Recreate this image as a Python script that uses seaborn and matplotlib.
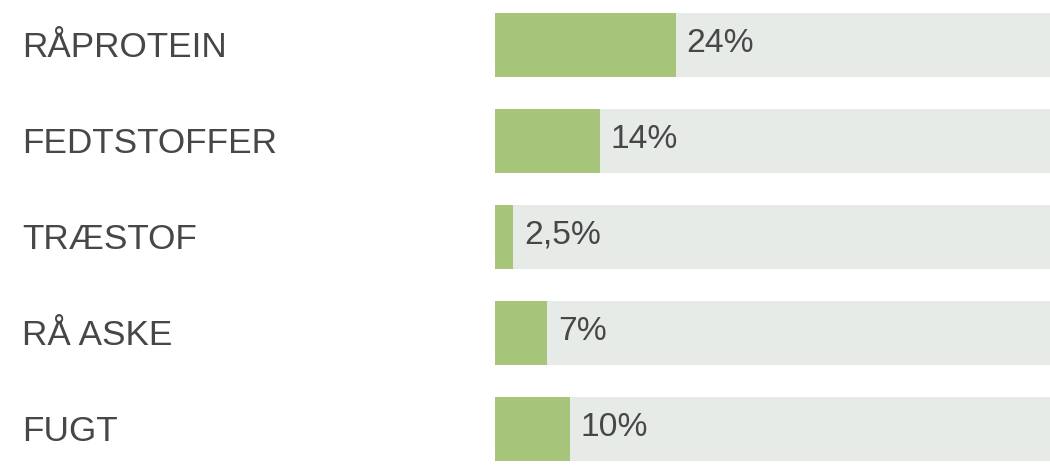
import matplotlib
matplotlib.use("Agg")
import matplotlib.pyplot as plt
import matplotlib.transforms as mtransforms
import seaborn as sns
import pandas as pd

# Analysis values (percent)
categories = ["RÅPROTEIN", "FEDTSTOFFER", "TRÆSTOF", "RÅ ASKE", "FUGT"]
values = [24, 14, 2.5, 7, 10]
track = [100, 100, 100, 100, 100]
value_labels = ["24%", "14%", "2,5%", "7%", "10%"]

green = "#a6c47a"
track_color = "#e7ebe8"
text_color = "#474747"

df = pd.DataFrame({"kategori": categories, "andel": values, "spor": track})

sns.set_style("white")
plt.rcParams["font.family"] = ["Liberation Sans", "DejaVu Sans"]

fig = plt.figure(figsize=(10.5, 4.73), dpi=100)
ax = fig.add_axes([494.5 / 1050, 0, 1 - 494.5 / 1050, 1])

sns.barplot(data=df, x="spor", y="kategori", orient="h", color=track_color,
            width=0.667, saturation=1, linewidth=0, ax=ax)
sns.barplot(data=df, x="andel", y="kategori", orient="h", color=green,
            width=0.667, saturation=1, linewidth=0, ax=ax)

# 1% ~ 7.55 px, axes are 555 px wide
ax.set_xlim(0, 555 / 7.55)
ax.set_ylim((473 - 45) / 96, -45 / 96)

for i, (v, lab) in enumerate(zip(values, value_labels)):
    ax.annotate(lab, xy=(v, i), xytext=(7.5, -5), textcoords="offset points",
                ha="left", va="baseline", fontsize=24.2, color=text_color)

blend = mtransforms.blended_transform_factory(fig.transFigure, ax.transData)
for i, cat in enumerate(categories):
    ax.text(22 / 1050, i + 0.125, cat, transform=blend, ha="left", va="baseline",
            fontsize=25.3, color=text_color)

ax.set_xlabel("")
ax.set_ylabel("")
ax.set_xticks([])
ax.set_yticks([])
sns.despine(ax=ax, left=True, bottom=True)

fig.savefig("out.png", dpi=100)
